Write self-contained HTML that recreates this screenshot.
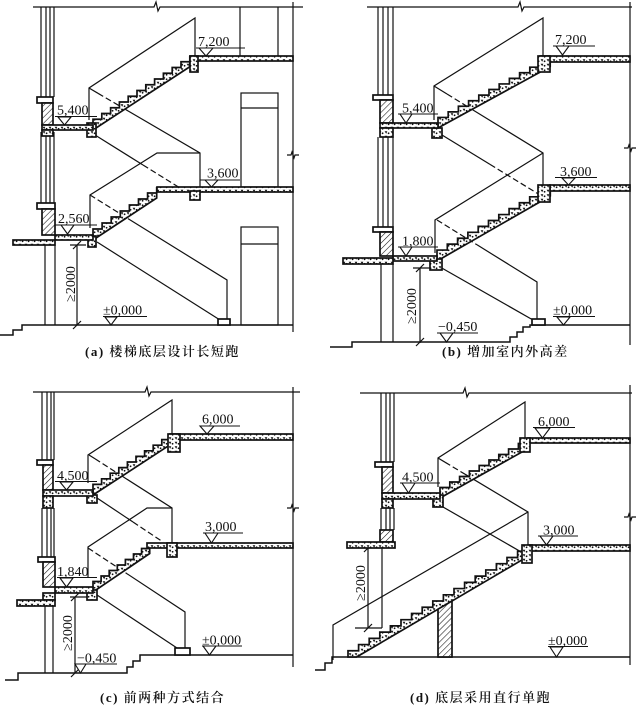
<!DOCTYPE html>
<html><head><meta charset="utf-8"><style>
html,body{margin:0;padding:0;background:#fff;}
svg{display:block;}
text{font-family:"Liberation Serif","Noto Serif CJK SC",serif;fill:#111;}
.lb{font-size:14px;}
.cap{font-size:13px;letter-spacing:1.5px;font-weight:600;}
</style></head><body>
<svg width="640" height="709" viewBox="0 0 640 709" xmlns="http://www.w3.org/2000/svg">
<defs>
<pattern id="c" width="6" height="4.5" patternUnits="userSpaceOnUse"><rect width="6" height="4.5" fill="#fff"/><path d="M0.6,0.8l1.6,2.4 1.1,-2.4z" fill="#111"/><circle cx="4.6" cy="2.8" r=".9" fill="#111"/></pattern>
<pattern id="h" width="4.2" height="4.2" patternUnits="userSpaceOnUse" patternTransform="rotate(45)"><rect width="4.2" height="4.2" fill="#fff"/><line x1="0" y1="0" x2="0" y2="4.2" stroke="#111" stroke-width="1.1"/></pattern>
</defs>

<!-- ================= PANEL A ================= -->
<g stroke="#111" stroke-width="1.2" fill="none">
<path d="M33,7H154l2,-5 2,9 2,-4H303"/>
<path d="M293,2V332"/><path d="M287,155h4l1,-3 2,6 1,-3h4"/>
<path d="M41,7V97M46,7V97M50,7V97M54,7V97M41,132V203M46,132V203M50,132V203M54,132V203M45,245V325M55,245V325"/>
<path d="M240,7V56M278,7V56"/>
<rect x="241" y="93" width="37" height="94"/><path d="M241,108H278"/>
<rect x="241" y="227" width="37" height="98"/><path d="M241,244H278"/>
<path d="M89,120V88L195,18V56"/>
<path d="M89,88L98,93.3M126,109.7L200,153V187"/><path d="M98,93.3L126,109.7" stroke-dasharray="6,3"/>
<path d="M95,135L143,165"/><path d="M143,165L180,188" stroke-dasharray="6,3"/>
<path d="M90,228V195L157,153H200"/>
<path d="M90,195L128,218.6" stroke-dasharray="6,3"/><path d="M128,218.6L227,280V319"/>
<path d="M97,242L220,320"/>
<path d="M0,335H13V330H22V325H293" stroke-width="1.5"/>
<path d="M77,245V325M73,249L81,241M73,329L81,321M70,245H86"/>
</g>
<g stroke="#111" stroke-width="1.7">
<path fill="url(#c)" d="M93,125v-5.75h8.8v-5.75h8.8v-5.75h8.8v-5.75h8.8v-5.75h8.8v-5.75h8.8v-5.75h8.8v-5.75h8.8v-5.75h8.8v-5.75h8.8v-5.75h8.8v-5.75V66.75L93,130Z"/>
<path fill="url(#c)" d="M93,235v-6h9.1v-6h9.1v-6h9.1v-6h9.1v-6h9.1v-6h9.1v-6h9.1v-6V198L93,240Z"/>
<rect x="190" y="56" width="103" height="5" fill="url(#c)"/>
<rect x="157" y="187" width="136" height="5" fill="url(#c)"/>
<rect x="190" y="56" width="8" height="16" fill="url(#c)"/>
<rect x="190" y="191" width="10" height="9" fill="url(#c)"/>
<rect x="87" y="123" width="9" height="14" fill="url(#c)"/>
<rect x="88" y="236" width="8" height="11" fill="url(#c)"/>
<rect x="37" y="97" width="16" height="6" fill="#fff"/>
<rect x="42" y="103" width="11" height="22" fill="url(#h)"/>
<rect x="42" y="125" width="51" height="5" fill="url(#c)"/>
<rect x="42" y="130" width="11" height="6" fill="url(#c)"/>
<rect x="37" y="203" width="18" height="6" fill="#fff"/>
<rect x="42" y="209" width="13" height="26" fill="url(#h)"/>
<rect x="55" y="235" width="38" height="5" fill="url(#c)"/>
<rect x="13" y="240" width="42" height="5" fill="url(#c)"/>
<rect x="218" y="319" width="12" height="6" fill="#fff"/>
</g>

<!-- ================= PANEL B ================= -->
<g stroke="#111" stroke-width="1.2" fill="none">
<path d="M367,7H518l2,-5 2,9 2,-4H632"/>
<path d="M630,2V345"/><path d="M624,148h4l1,-3 2,6 1,-3h4"/>
<path d="M378,7V95M383,7V95M388,7V95M393,7V95M378,137V227M383,137V227M388,137V227M393,137V227M381,264V342M393,264V342"/>
<path d="M434,120V86L543,18V56"/>
<path d="M434,86L447,94M473,110L543,153V185"/><path d="M447,94L473,110" stroke-dasharray="6,3"/>
<path d="M442,135L490,164.4"/><path d="M490,164.4L540,195" stroke-dasharray="6,3"/>
<path d="M435,253V220L543,153"/>
<path d="M437,220L477,244.8" stroke-dasharray="6,3"/><path d="M477,244.8L537,282V319"/>
<path d="M440,267L533,320"/>
<path d="M330,347H352V342H510V337H517V332H523V327H530V325H630" stroke-width="1.5"/>
<path d="M420,268V343M416,272L424,264M416,346L424,338M413,268H432"/>
</g>
<g stroke="#111" stroke-width="1.7">
<path fill="url(#c)" d="M438,123v-5.58h10.2v-5.58h10.2v-5.58h10.2v-5.58h10.2v-5.58h10.2v-5.58h10.2v-5.58h10.2v-5.58h10.2v-5.58h10.2v-5.58h10.2v-5.58h10.2v-5.58V66.6L438,128Z"/>
<path fill="url(#c)" d="M437,256v-5.92h10.3v-5.92h10.3v-5.92h10.3v-5.92h10.3v-5.92h10.3v-5.92h10.3v-5.92h10.3v-5.92h10.3v-5.92h10.3v-5.92h10.3v-5.92h10.3v-5.92V196L437,261Z"/>
<rect x="540" y="56" width="90" height="6" fill="url(#c)"/>
<rect x="550" y="185" width="80" height="6" fill="url(#c)"/>
<rect x="538" y="56" width="12" height="16" fill="url(#c)"/>
<rect x="538" y="185" width="12" height="17" fill="url(#c)"/>
<rect x="432" y="128" width="10" height="10" fill="url(#c)"/>
<rect x="430" y="259" width="12" height="11" fill="url(#c)"/>
<rect x="373" y="95" width="20" height="5" fill="#fff"/>
<rect x="380" y="100" width="13" height="23" fill="url(#h)"/>
<rect x="380" y="123" width="58" height="5" fill="url(#c)"/>
<rect x="380" y="128" width="13" height="9" fill="url(#c)"/>
<rect x="373" y="227" width="20" height="5" fill="#fff"/>
<rect x="380" y="232" width="13" height="24" fill="url(#h)"/>
<rect x="393" y="256" width="44" height="5" fill="url(#c)"/>
<rect x="343" y="258" width="50" height="6" fill="url(#c)"/>
<rect x="532" y="319" width="13" height="6" fill="#fff"/>
</g>

<!-- ================= PANEL C ================= -->
<g stroke="#111" stroke-width="1.2" fill="none">
<path d="M33,392H145l2,-5 2,9 2,-4H300"/>
<path d="M293,387V667"/><path d="M287,508h4l1,-3 2,6 1,-3h4"/>
<path d="M42,392V460M47,392V460M51,392V460M54,392V460M42,508V557M47,508V557M51,508V557M54,508V557M45,606V673M53,606V673"/>
<path d="M88,483V455L172,400V434"/>
<path d="M89,455L95,458.8M120,474.8L172,508V543"/><path d="M95,458.8L120,474.8" stroke-dasharray="6,3"/>
<path d="M97,498L133,522"/><path d="M133,522L163,542" stroke-dasharray="6,3"/>
<path d="M88,577V547L147,508H172"/>
<path d="M88,548L127,573.7" stroke-dasharray="6,3"/><path d="M127,573.7L185,612V648"/>
<path d="M97,595L177,648"/>
<path d="M5,680H18V673H127V667H133V661H140V655H293" stroke-width="1.5"/>
<path d="M75,597V673M71,601L79,593M71,677L79,669M70,597H90"/>
</g>
<g stroke="#111" stroke-width="1.7">
<path fill="url(#c)" d="M93,490v-5.6h8.6v-5.6h8.6v-5.6h8.6v-5.6h8.6v-5.6h8.6v-5.6h8.6v-5.6h8.6v-5.6h8.6v-5.6h8.6v-5.6V444.6L93,495Z"/>
<path fill="url(#c)" d="M93,587v-5.5h8.1v-5.5h8.1v-5.5h8.1v-5.5h8.1v-5.5h8.1v-5.5h8.1v-5.5h8.1v-5.5V553.5L93,592Z"/>
<rect x="170" y="434" width="123" height="6" fill="url(#c)"/>
<rect x="147" y="543" width="146" height="5" fill="url(#c)"/>
<rect x="168" y="434" width="12" height="18" fill="url(#c)"/>
<rect x="167" y="543" width="10" height="14" fill="url(#c)"/>
<rect x="87" y="495" width="10" height="8" fill="url(#c)"/>
<rect x="87" y="590" width="10" height="10" fill="url(#c)"/>
<rect x="37" y="460" width="16" height="5" fill="#fff"/>
<rect x="43" y="465" width="10" height="25" fill="url(#h)"/>
<rect x="43" y="490" width="50" height="6" fill="url(#c)"/>
<rect x="43" y="496" width="10" height="12" fill="url(#c)"/>
<rect x="38" y="557" width="17" height="5" fill="#fff"/>
<rect x="43" y="562" width="12" height="25" fill="url(#h)"/>
<rect x="55" y="587" width="38" height="6" fill="url(#c)"/>
<rect x="43" y="593" width="12" height="7" fill="url(#c)"/>
<rect x="17" y="600" width="38" height="6" fill="url(#c)"/>
<rect x="175" y="648" width="15" height="7" fill="#fff"/>
</g>

<!-- ================= PANEL D ================= -->
<g stroke="#111" stroke-width="1.2" fill="none">
<path d="M360,393H463l2,-5 2,9 2,-4H632"/>
<path d="M630,385V665"/><path d="M624,517h4l1,-3 2,6 1,-3h4"/>
<path d="M381,393V462M386,393V462M390,393V462M394,393V462M381,508V530M386,508V530M390,508V530M394,508V530M382,548V628"/>
<path d="M438,487V458L525,402V438"/>
<path d="M438,458L445,462.2M465,474.2L528,512V545"/><path d="M445,462.2L465,474.2" stroke-dasharray="6,3"/>
<path d="M443,507L523,553"/>
<path d="M333,660V625L528,512"/>
<path d="M315,670H325V663H332V657H630" stroke-width="1.5"/>
<path d="M368,548V628M355,628H382M364,552L372,544M364,632L372,624"/>
</g>
<g stroke="#111" stroke-width="1.7">
<path fill="url(#c)" d="M440,493v-5.5h9.8v-5.5h9.8v-5.5h9.8v-5.5h9.8v-5.5h9.8v-5.5h9.8v-5.5h9.8v-5.5h9.8v-5.5h9.8v-5.5V448.5L440,498Z"/>
<path fill="url(#c)" d="M348,657v-6.22h10.6v-6.22h10.6v-6.22h10.6v-6.22h10.6v-6.22h10.6v-6.22h10.6v-6.22h10.6v-6.22h10.6v-6.22h10.6v-6.22h10.6v-6.22h10.6v-6.22h10.6v-6.22h10.6v-6.22h10.6v-6.22h10.6v-6.22h10.6v-6.22h10.6v-6.22V556.3L356.6,657Z"/>
<path fill="url(#h)" d="M438,609.2L452,601V657H438Z"/>
<rect x="528" y="438" width="102" height="5" fill="url(#c)"/>
<rect x="528" y="545" width="102" height="6" fill="url(#c)"/>
<rect x="520" y="438" width="10" height="14" fill="url(#c)"/>
<rect x="522" y="545" width="10" height="18" fill="url(#c)"/>
<rect x="433" y="495" width="10" height="12" fill="url(#c)"/>
<rect x="375" y="462" width="18" height="5" fill="#fff"/>
<rect x="382" y="467" width="11" height="26" fill="url(#h)"/>
<rect x="382" y="493" width="58" height="6" fill="url(#c)"/>
<rect x="382" y="499" width="11" height="9" fill="url(#c)"/>
<rect x="380" y="530" width="13" height="12" fill="url(#h)"/>
<rect x="347" y="542" width="48" height="6" fill="url(#c)"/>
</g>

<!-- ================= ELEVATION MARKS ================= -->
<g stroke="#111" stroke-width="1.1" fill="#fff">
<path d="M196,48H245M199,48L213,48L206,56Z"/>
<path d="M55,116.5H97M58,117L71,117L64.5,125Z"/>
<path d="M200,180H240M205,180L218,180L211.5,187Z"/>
<path d="M55,225H97M61,225L74,225L67.5,234Z"/>
<path d="M103,316.5H147M105,317L117,317L111,325Z"/>

<path d="M553,46H595M556,46L569,46L562.5,55Z"/>
<path d="M398,114H438M400,114L412,114L406,123Z"/>
<path d="M555,177.5H597M562,178L575,178L568.5,185Z"/>
<path d="M398,247H438M400,247L412,247L406,256Z"/>
<path d="M553,316.5H595M557,317L570,317L563.5,325Z"/>
<path d="M437,333H478M440,333L453,333L446.5,342Z"/>

<path d="M200,426H240M200,426L214,426L207,434Z"/>
<path d="M55,481.5H97M60,482L73,482L66.5,490Z"/>
<path d="M203,533H243M205,533L218,533L211.5,543Z"/>
<path d="M57,577.5H97M60,578L73,578L66.5,587Z"/>
<path d="M202,646H242M203,646L216,646L209.5,655Z"/>
<path d="M75,664H117M75,664L86,664L80.5,673Z"/>

<path d="M533,427.5H575M535,428L550,428L542.5,438Z"/>
<path d="M400,483H440M402,483L415,483L408.5,493Z"/>
<path d="M538,536H578M540,536L553,536L546.5,545Z"/>
<path d="M548,646.5H588M550,647L563,647L556.5,657Z"/>
</g>

<g class="lb">
<text x="198" y="46">7,200</text>
<text x="57" y="114.5">5,400</text>
<text x="207" y="177.5">3,600</text>
<text x="58" y="223">2,560</text>
<text x="103" y="314.5">±0,000</text>

<text x="555" y="44">7,200</text>
<text x="402" y="112.5">5,400</text>
<text x="560" y="176">3,600</text>
<text x="402" y="245.5">1,800</text>
<text x="553" y="314.5">±0,000</text>
<text x="438" y="331">−0,450</text>

<text x="202" y="423.5">6,000</text>
<text x="57" y="480">4,500</text>
<text x="205" y="531">3,000</text>
<text x="57" y="576">1,840</text>
<text x="202" y="644.5">±0,000</text>
<text x="77" y="662.5">−0,450</text>

<text x="538" y="426">6,000</text>
<text x="402" y="481.5">4,500</text>
<text x="543" y="534.5">3,000</text>
<text x="548" y="645">±0,000</text>

<text transform="translate(75,284) rotate(-90)" text-anchor="middle">≥2000</text>
<text transform="translate(416,306) rotate(-90)" text-anchor="middle">≥2000</text>
<text transform="translate(72,633) rotate(-90)" text-anchor="middle">≥2000</text>
<text transform="translate(365,583) rotate(-90)" text-anchor="middle">≥2000</text>
</g>

<g class="cap">
<text x="85" y="356">(a) 楼梯底层设计长短跑</text>
<text x="442" y="356">(b) 增加室内外高差</text>
<text x="100" y="702">(c) 前两种方式结合</text>
<text x="410" y="702">(d) 底层采用直行单跑</text>
</g>
</svg>
</body></html>
